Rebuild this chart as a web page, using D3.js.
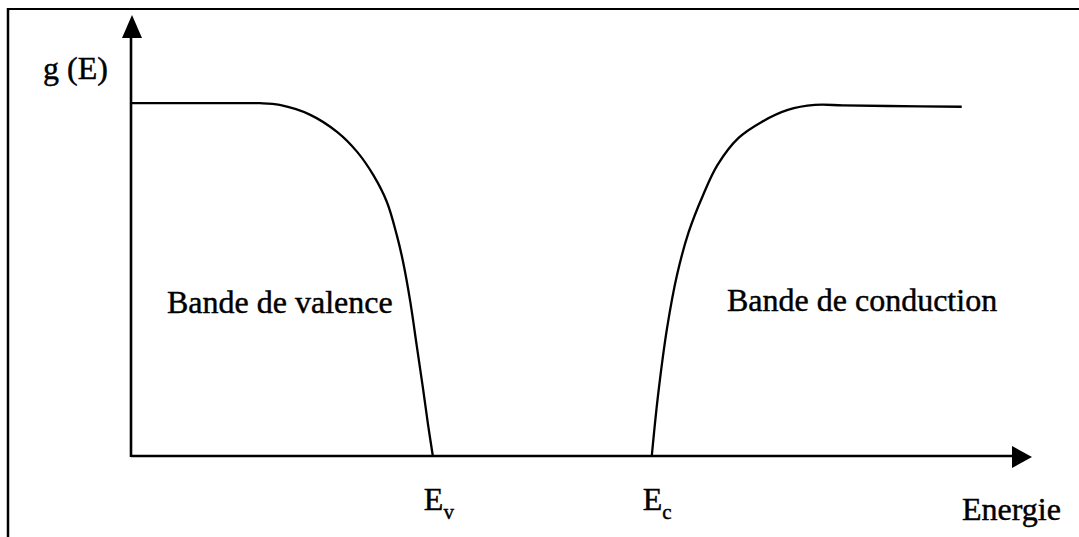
<!DOCTYPE html>
<html>
<head>
<meta charset="utf-8">
<script src="https://cdn.jsdelivr.net/npm/d3@7"></script>
<style>
  html, body { margin: 0; padding: 0; background: #fff; }
  svg { display: block; }
  text { font-family: "Liberation Serif", "Times New Roman", serif; fill: #000; stroke: #000; stroke-width: 0.45px; }
</style>
</head>
<body>
<svg id="chart" width="1079" height="537"></svg>
<script>
// ---- data (energy in arbitrary units, g(E) in relative units) ----
const valenceE = [0, 7, 12, 14.3, 16.5, 19.9, 22.9, 25.1, 26.9, 28.4, 29.5, 30.2, 31.0, 31.7, 32.4, 32.95, 33.5];
const valenceG = [1.0, 1.0, 1.0, 1.0, 0.995, 0.967, 0.918, 0.862, 0.796, 0.72, 0.626, 0.55, 0.437, 0.315, 0.193, 0.092, 0];
const conductionE = [57.8, 58.5, 59.5, 60.6, 61.9, 63.5, 65.1, 67.4, 70.0, 72.9, 75.9, 79, 84, 92.2];
const conductionG = [0, 0.173, 0.363, 0.513, 0.635, 0.74, 0.825, 0.901, 0.947, 0.981, 0.995, 0.994, 0.992, 0.99];
const levels = [{name: "E", sub: "v", e: 33.5}, {name: "E", sub: "c", e: 57.8}];
const yLabel = "g (E)";
const xLabel = "Energie";
const bandLabels = ["Bande de valence", "Bande de conduction"];

const svg = d3.select("#chart");

// frame
svg.append("line").attr("x1", 8).attr("x2", 1079).attr("y1", 9).attr("y2", 9)
  .attr("stroke", "#000").attr("stroke-width", 2.2);
svg.append("line").attr("x1", 8).attr("x2", 8).attr("y1", 8).attr("y2", 537)
  .attr("stroke", "#000").attr("stroke-width", 2.5);

const x = d3.scaleLinear().domain([0, 100]).range([131, 1032]);
const y = d3.scaleLinear().domain([0, 1.25]).range([456, 15]);

// axes
svg.append("line").attr("x1", x(0)).attr("x2", x(100) - 12).attr("y1", y(0)).attr("y2", y(0))
  .attr("stroke", "#000").attr("stroke-width", 2.6);
svg.append("line").attr("x1", x(0)).attr("x2", x(0)).attr("y1", y(0) + 1).attr("y2", y(1.25) + 12)
  .attr("stroke", "#000").attr("stroke-width", 2.6);
// arrowheads
const xt = x(100), yt = y(1.25), x0 = x(0), y0 = y(0);
svg.append("path").attr("d", `M${xt},${y0 + 1} L${xt - 20},${y0 - 10} L${xt - 20},${y0 + 12} Z`).attr("fill", "#000");
svg.append("path").attr("d", `M${x0 + 1},${yt} L${x0 - 9},${yt + 23} L${x0 + 11},${yt + 23} Z`).attr("fill", "#000");

// curves
const line = d3.line().x(d => x(d[0])).y(d => y(d[1])).curve(d3.curveCatmullRom.alpha(0.5));
const valence = valenceE.map((e, i) => [e, valenceG[i]]);
const conduction = conductionE.map((e, i) => [e, conductionG[i]]);
[valence, conduction].forEach(data => {
  svg.append("path").attr("d", line(data)).attr("fill", "none")
    .attr("stroke", "#000").attr("stroke-width", 2.3).attr("stroke-linejoin", "round");
});

// labels
svg.append("text").attr("x", 43).attr("y", 79).attr("font-size", 32).text(yLabel);
svg.append("text").attr("x", 962).attr("y", 520).attr("font-size", 32).text(xLabel);
svg.append("text").attr("x", 167).attr("y", 313).attr("font-size", 32).text(bandLabels[0]);
svg.append("text").attr("x", 727).attr("y", 311).attr("font-size", 32).text(bandLabels[1]);

levels.forEach(l => {
  const t = svg.append("text").attr("x", x(l.e) - 9).attr("y", 510).attr("font-size", 32);
  t.append("tspan").text(l.name);
  t.append("tspan").attr("font-size", 21).attr("dy", 9).text(l.sub);
});
</script>
</body>
</html>
